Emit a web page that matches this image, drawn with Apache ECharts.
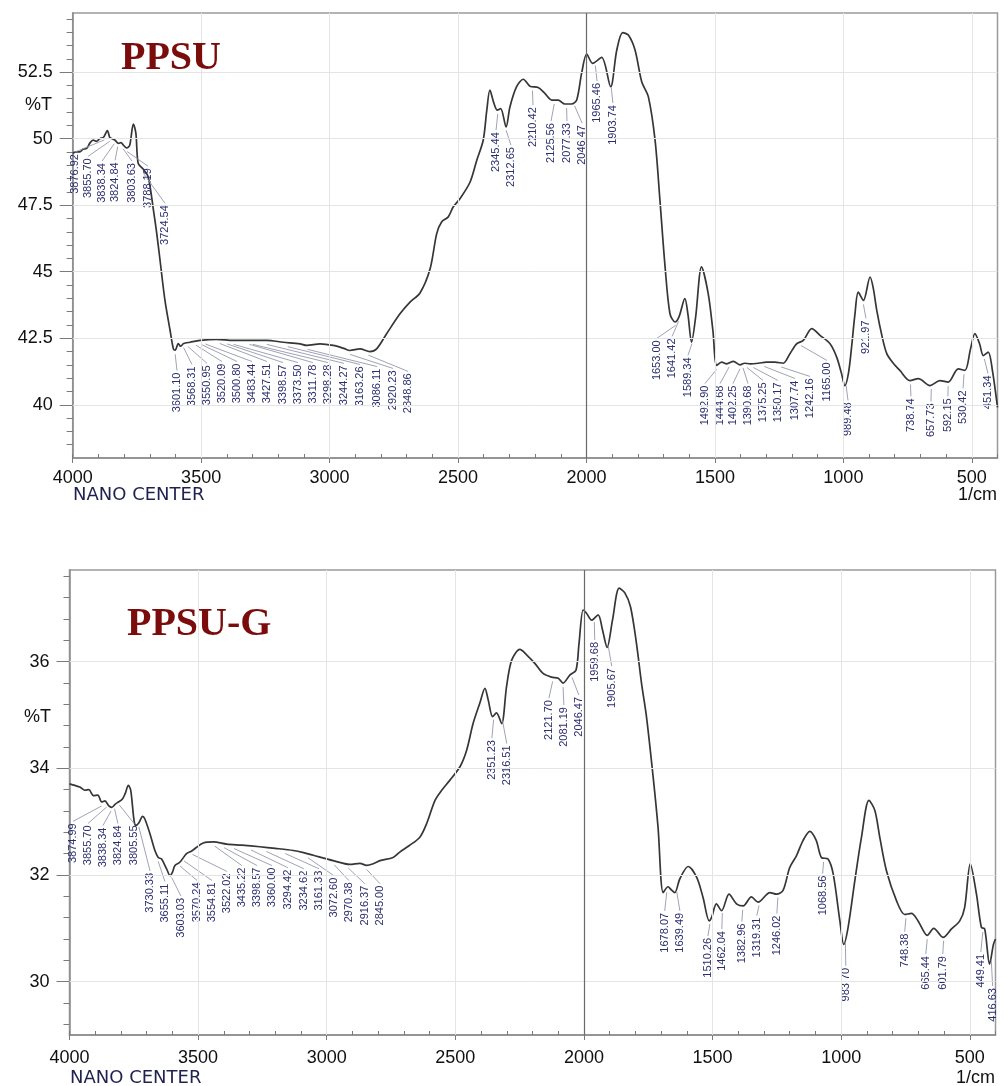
<!DOCTYPE html>
<html>
<head>
<meta charset="utf-8">
<script src="https://cdn.jsdelivr.net/npm/echarts@6/dist/echarts.min.js"></script>
<style>
  html, body { margin: 0; background: #fff; }
  #chart { width: 1008px; height: 1086px; }
</style>
</head>
<body>
<div id="chart"></div>
<script>
// PPSU spectrum (wavenumber, %T)
const ppsuWn = [4000, 3985, 3972, 3960, 3946, 3932, 3920, 3908, 3894, 3880, 3865, 3856, 3848, 3835, 3822, 3812, 3803, 3790, 3778, 3764,
  3754, 3745, 3725, 3706, 3684, 3673, 3660, 3641, 3621, 3608, 3601, 3589, 3580, 3568, 3543, 3504, 3439, 3375, 3300, 3245,
  3180, 3115, 3089, 3037, 2986, 2945, 2921, 2882, 2843, 2817, 2778, 2726, 2687, 2648, 2609, 2583, 2564, 2538, 2519, 2492,
  2453, 2427, 2402, 2388, 2376, 2360, 2347, 2334, 2313, 2298, 2272, 2246, 2220, 2188, 2162, 2135, 2110, 2084, 2058, 2038,
  2019, 1999, 1976, 1941, 1906, 1882, 1859, 1837, 1811, 1785, 1759, 1733, 1714, 1694, 1675, 1655, 1640, 1617, 1605, 1591,
  1575, 1552, 1526, 1508, 1493, 1474, 1454, 1428, 1402, 1385, 1363, 1331, 1300, 1266, 1234, 1208, 1182, 1156, 1123, 1091,
  1052, 1026, 1008, 994, 980, 968, 955, 942, 922, 896, 884, 870, 850, 831, 805, 780, 741, 708, 663, 624,
  592, 553, 527, 505, 488, 470, 455, 436, 420, 400];
const ppsuT = [49.45, 49.5, 49.5, 49.6, 49.63, 49.85, 49.94, 49.9, 50.0, 50.05, 50.3, 50.05, 50.0, 49.94, 49.82, 49.85, 49.76, 49.65, 49.75, 50.55,
  50.2, 49.07, 48.85, 48.56, 47.2, 46.45, 45.43, 43.93, 42.8, 42.1, 42.05, 42.3, 42.2, 42.3, 42.35, 42.42, 42.46, 42.42, 42.42, 42.42,
  42.35, 42.29, 42.23, 42.29, 42.23, 42.12, 42.04, 42.1, 42.0, 42.1, 42.67, 43.42, 43.86, 44.2, 45.1, 46.43, 46.87, 47.06, 47.43, 47.75,
  48.37, 49.19, 49.94, 51.07, 51.82, 51.32, 51.07, 51.13, 50.44, 51.19, 51.95, 52.23, 51.97, 51.92, 51.7, 51.45, 51.45, 51.3, 51.3, 51.45,
  52.45, 53.18, 52.83, 53.05, 51.95, 53.33, 53.98, 53.89, 53.33, 52.14, 51.57, 49.94, 47.68, 45.18, 43.42, 43.11, 43.3, 43.99, 43.4, 42.35,
  43.3, 45.18, 44.17, 42.8, 41.48, 41.6, 41.54, 41.63, 41.5, 41.56, 41.54, 41.56, 41.6, 41.6, 41.56, 41.92, 42.29, 42.42, 42.86, 42.61,
  42.29, 41.79, 41.2, 40.72, 41.2, 42.17, 43.4, 44.23, 43.92, 44.8, 44.4, 43.55, 42.6, 41.92, 41.55, 41.29, 40.91, 40.98, 40.72, 40.91,
  40.85, 41.35, 41.29, 42.1, 42.67, 42.3, 41.85, 41.98, 41.3, 39.9];

// PPSU-G spectrum (wavenumber, %T)
const ppsugWn = [4000, 3979, 3960, 3940, 3925, 3907, 3890, 3875, 3862, 3848, 3836, 3822, 3810, 3795, 3784, 3771, 3762, 3749, 3742, 3730,
  3716, 3707, 3687, 3668, 3655, 3642, 3622, 3609, 3600, 3590, 3571, 3545, 3525, 3506, 3480, 3440, 3389, 3330, 3260, 3200,
  3130, 3090, 3052, 2975, 2910, 2871, 2845, 2815, 2793, 2742, 2716, 2680, 2638, 2612, 2579, 2553, 2521, 2482, 2456, 2431,
  2405, 2385, 2372, 2355, 2340, 2320, 2301, 2281, 2249, 2223, 2191, 2159, 2126, 2100, 2081, 2055, 2031, 2019, 2003, 1990,
  1970, 1945, 1928, 1910, 1889, 1863, 1841, 1819, 1796, 1776, 1757, 1731, 1712, 1692, 1673, 1660, 1647, 1627, 1595, 1562,
  1537, 1513, 1504, 1485, 1465, 1436, 1407, 1381, 1349, 1323, 1277, 1251, 1226, 1200, 1174, 1148, 1122, 1097, 1077, 1051,
  1031, 1005, 990, 973, 947, 921, 892, 869, 850, 824, 785, 753, 727, 701, 665, 640, 604, 571, 539, 520,
  498, 474, 455, 442, 423, 408, 400];
const ppsugT = [33.71, 33.68, 33.65, 33.59, 33.6, 33.49, 33.5, 33.37, 33.39, 33.3, 33.27, 33.33, 33.37, 33.42, 33.52, 33.68, 33.59, 33.02, 32.93, 32.98,
  33.1, 33.05, 32.77, 32.46, 32.33, 32.3, 32.11, 31.99, 32.05, 32.18, 32.24, 32.4, 32.45, 32.52, 32.6, 32.62, 32.58, 32.56, 32.53, 32.5,
  32.46, 32.42, 32.37, 32.27, 32.2, 32.22, 32.18, 32.22, 32.27, 32.33, 32.43, 32.55, 32.71, 32.96, 33.4, 33.59, 33.78, 34.03, 34.34, 34.84,
  35.22, 35.5, 35.28, 34.97, 35.04, 34.84, 35.53, 36.03, 36.23, 36.13, 35.97, 35.78, 35.71, 35.69, 35.6, 35.75, 35.84, 36.35, 36.97, 36.91,
  36.78, 36.88, 36.6, 36.27, 36.78, 37.38, 37.29, 37.03, 36.35, 35.59, 34.97, 33.84, 32.9, 31.67, 31.78, 31.72, 31.67, 31.93, 32.16, 31.96,
  31.58, 31.14, 31.2, 31.46, 31.33, 31.64, 31.46, 31.42, 31.59, 31.49, 31.67, 31.64, 31.71, 32.14, 32.36, 32.65, 32.82, 32.65, 32.33, 32.3,
  32.02, 31.14, 30.7, 31.02, 31.89, 32.71, 33.4, 33.21, 32.71, 32.08, 31.52, 31.26, 31.28, 31.14, 30.87, 31.0, 30.83, 30.99, 31.14, 31.39,
  32.21, 31.64, 31.02, 30.99, 30.33, 30.7, 30.8];

// peak labels: peak wavenumber, where its tag sits (wavenumber) and the %T at the tag's top
const ppsuPeaks = [3876.92, 3855.70, 3838.34, 3824.84, 3803.63, 3788.19, 3724.54,
  3601.10, 3568.31, 3550.95, 3520.09, 3500.80, 3483.44, 3427.51, 3398.57, 3373.50, 3311.78, 3298.28, 3244.27, 3163.26, 3086.11, 2920.23, 2848.86,
  2345.44, 2312.65, 2210.42, 2125.56, 2077.33, 2046.47, 1965.46, 1903.74,
  1653.00, 1641.42, 1589.34, 1492.90, 1444.68, 1402.25, 1390.68, 1375.25, 1350.17, 1307.74, 1242.16, 1165.00,
  989.48, 921.97, 738.74, 657.73, 592.15, 530.42, 451.34];
const ppsuTagWn = [3991, 3940, 3886, 3835, 3769, 3707, 3641,
  3594, 3536, 3477, 3419, 3360, 3302, 3244, 3181, 3123, 3065, 3006, 2944, 2882, 2815, 2753, 2695,
  2352, 2294, 2208, 2138, 2076, 2017, 1959, 1897,
  1726, 1667, 1605, 1539, 1480, 1430, 1371, 1313, 1255, 1188, 1130, 1064,
  982, 912, 737, 659, 593, 534, 437];
const ppsuTagT = [49.42, 49.26, 49.08, 49.11, 49.08, 48.89, 47.5,
  41.21, 41.44, 41.48, 41.55, 41.55, 41.55, 41.55, 41.51, 41.51, 41.51, 41.51, 41.48, 41.44, 41.36, 41.29, 41.18,
  50.24, 49.68, 51.18, 50.58, 50.58, 50.51, 52.09, 51.26,
  42.42, 42.49, 41.78, 40.72, 40.72, 40.72, 40.72, 40.84, 40.84, 40.91, 40.99, 41.59,
  40.09, 43.17, 40.24, 40.05, 40.24, 40.54, 41.1];

const ppsugPeaks = [3874.99, 3855.70, 3838.34, 3824.84, 3805.55, 3730.33, 3655.11, 3603.03, 3570.24, 3554.81, 3522.02,
  3435.22, 3398.57, 3360.00, 3294.42, 3234.62, 3161.33, 3072.60, 2970.38, 2916.37, 2845.00,
  2351.23, 2316.51, 2121.70, 2081.19, 2046.47, 1959.68, 1905.67,
  1678.07, 1639.49, 1510.26, 1462.04, 1382.96, 1319.31, 1246.02, 1068.56, 983.70, 748.38, 665.44, 601.79, 449.41, 416.63];
const ppsugTagWn = [3986, 3928, 3870, 3812, 3749, 3687, 3629, 3567, 3504, 3446, 3388,
  3330, 3271, 3213, 3151, 3089, 3030, 2972, 2914, 2852, 2793,
  2358, 2300, 2136, 2078, 2020, 1958, 1892,
  1686, 1627, 1518, 1464, 1386, 1328, 1250, 1072, 982, 753, 671, 605, 457, 411];
const ppsugTagT = [32.97, 32.93, 32.89, 32.93, 32.93, 32.04, 31.84, 31.57, 31.86, 31.86, 32.03,
  32.14, 32.14, 32.14, 32.1, 32.08, 32.08, 31.95, 31.86, 31.8, 31.8,
  34.53, 34.43, 35.28, 35.15, 35.34, 36.37, 35.88,
  31.29, 31.29, 30.82, 30.95, 31.09, 31.2, 31.24, 31.99, 30.26, 30.9, 30.48, 30.48, 30.52, 29.88];

// axes
const xLabels = [4000, 3500, 3000, 2500, 2000, 1500, 1000, 500];
const xGridAt = [3500, 3000, 2500, 1500, 1000, 500];
const ppsuYLabels = [40, 42.5, 45, 47.5, 50, 52.5];
const ppsugYLabels = [30, 32, 34, 36];

function steps(from, to, step) {
  const out = [];
  for (let v = from; v <= to + 1e-9; v += step) out.push(Math.round(v * 100) / 100);
  return out;
}
const xMinor = steps(400, 4000, 100);
const ppsuYMinor = steps(38.5, 54.5, 0.5);
const ppsugYMinor = steps(29.2, 37.6, 0.4);

function curveAt(wn, ws, ts) {
  for (let i = 0; i < ws.length - 1; i++) {
    if (wn <= ws[i] && wn >= ws[i + 1]) {
      const f = (ws[i] - wn) / (ws[i] - ws[i + 1]);
      return ts[i] + f * (ts[i + 1] - ts[i]);
    }
  }
  return ts[ts.length - 1];
}

const tickColor = '#7a7a7a';
const labelFont = '"Liberation Sans", Arial, sans-serif';

function mainX(g) {
  return {
    type: 'value', gridIndex: g, inverse: true, min: 400, max: 4000,
    axisLine: { show: true, lineStyle: { color: '#8c8c8c', width: 1.5 } },
    axisTick: { show: true, inside: true, length: 4, customValues: xMinor, lineStyle: { color: tickColor } },
    axisLabel: { customValues: xLabels, margin: g ? 14 : 11, fontSize: 18, color: '#111', fontFamily: labelFont,
                 formatter: v => String(v) },
    splitLine: { show: false }
  };
}
function majorX(g) {
  return {
    type: 'value', gridIndex: g, inverse: true, min: 400, max: 4000, position: 'bottom',
    axisLine: { show: false }, axisLabel: { show: false }, splitLine: { show: false },
    axisTick: { show: true, length: 5, customValues: xLabels, lineStyle: { color: tickColor } }
  };
}
function mainY(g, min, max, labels, minor) {
  return {
    type: 'value', gridIndex: g, min: min, max: max, position: 'left',
    axisLine: { show: true, lineStyle: { color: '#8c8c8c', width: 1.5 } },
    axisTick: { show: true, length: 6, customValues: minor, lineStyle: { color: tickColor } },
    axisLabel: { customValues: labels, margin: 20, fontSize: 18, color: '#111', fontFamily: labelFont,
                 formatter: v => String(v) },
    splitLine: { show: false }
  };
}
function majorY(g, min, max, labels) {
  return {
    type: 'value', gridIndex: g, min: min, max: max, position: 'left',
    axisLine: { show: false }, axisLabel: { show: false }, splitLine: { show: false },
    axisTick: { show: true, length: 13, customValues: labels, lineStyle: { color: tickColor } }
  };
}

function gridLines(g, yVals) {
  return {
    type: 'line', xAxisIndex: g, yAxisIndex: g, data: [], z: 1, silent: true,
    markLine: {
      silent: true, symbol: 'none', animation: false, label: { show: false },
      lineStyle: { color: '#e4e4e4', width: 1, type: 'solid' },
      data: xGridAt.map(v => ({ xAxis: v }))
        .concat(yVals.map(v => ({ yAxis: v })))
        .concat([{ xAxis: 2000, lineStyle: { color: '#6a6a6a', width: 1.2, type: 'solid' } }])
    }
  };
}

function spectrum(g, ws, ts) {
  return {
    type: 'line', xAxisIndex: g, yAxisIndex: g, z: 3, silent: true,
    data: ws.map((w, i) => [w, ts[i]]),
    showSymbol: false, smooth: 0.3,
    lineStyle: { color: '#363636', width: 1.7 }
  };
}

function peakTags(g, peaks, tagWn, tagT, ws, ts) {
  return {
    type: 'custom', xAxisIndex: g, yAxisIndex: g, z: 4, silent: true,
    encode: { x: 1, y: 2 },
    data: peaks.map((p, i) => [p, tagWn[i], tagT[i]]),
    renderItem: function (params, api) {
      const p = api.value(0);
      const a = api.coord([p, curveAt(p, ws, ts)]);
      const b = api.coord([api.value(1), api.value(2)]);
      return {
        type: 'group',
        children: [
          { type: 'line', shape: { x1: a[0], y1: a[1] + 4, x2: b[0], y2: b[1] - 2 },
            style: { stroke: '#9597ab', lineWidth: 0.9 } },
          { type: 'text', x: b[0], y: b[1], rotation: Math.PI / 2,
            style: { text: p.toFixed(2), align: 'right', verticalAlign: 'middle',
                     font: '11px ' + labelFont, fill: '#2b2e6e' } }
        ]
      };
    }
  };
}

const chart = echarts.init(document.getElementById('chart'), null, { renderer: 'canvas' });

const textStyle = { font: '18px ' + labelFont, fill: '#111' };
const navyStyle = { font: '18px "DejaVu Sans", sans-serif', fill: '#1f2150' };

chart.setOption({
  animation: false,
  backgroundColor: '#fff',
  title: [
    { text: 'PPSU', left: 121, top: 39, padding: 0,
      textStyle: { fontFamily: '"Liberation Serif", "Times New Roman", serif', fontWeight: 'bold', fontSize: 40, color: '#7b0c0c' } },
    { text: 'PPSU-G', left: 127, top: 605, padding: 0,
      textStyle: { fontFamily: '"Liberation Serif", "Times New Roman", serif', fontWeight: 'bold', fontSize: 40, color: '#7b0c0c' } }
  ],
  grid: [
    { left: 72.7, top: 13, width: 924.8, height: 445, show: true, borderColor: '#9a9a9a', borderWidth: 1.5 },
    { left: 69.5, top: 570, width: 926, height: 465, show: true, borderColor: '#9a9a9a', borderWidth: 1.5 }
  ],
  xAxis: [mainX(0), mainX(1), majorX(0), majorX(1)],
  yAxis: [
    mainY(0, 38, 54.72, ppsuYLabels, ppsuYMinor),
    mainY(1, 29, 37.72, ppsugYLabels, ppsugYMinor),
    majorY(0, 38, 54.72, ppsuYLabels),
    majorY(1, 29, 37.72, ppsugYLabels)
  ],
  graphic: [
    { type: 'text', x: 52, y: 105, style: Object.assign({ text: '%T', align: 'right', verticalAlign: 'middle' }, textStyle) },
    { type: 'text', x: 51, y: 717, style: Object.assign({ text: '%T', align: 'right', verticalAlign: 'middle' }, textStyle) },
    { type: 'text', x: 73, y: 495, style: Object.assign({ text: 'NANO CENTER', align: 'left', verticalAlign: 'middle' }, navyStyle) },
    { type: 'text', x: 70, y: 1078, style: Object.assign({ text: 'NANO CENTER', align: 'left', verticalAlign: 'middle' }, navyStyle) },
    { type: 'text', x: 997, y: 495, style: Object.assign({ text: '1/cm', align: 'right', verticalAlign: 'middle' }, textStyle) },
    { type: 'text', x: 995, y: 1078, style: Object.assign({ text: '1/cm', align: 'right', verticalAlign: 'middle' }, textStyle) }
  ],
  series: [
    gridLines(0, ppsuYLabels),
    gridLines(1, ppsugYLabels),
    spectrum(0, ppsuWn, ppsuT),
    spectrum(1, ppsugWn, ppsugT),
    peakTags(0, ppsuPeaks, ppsuTagWn, ppsuTagT, ppsuWn, ppsuT),
    peakTags(1, ppsugPeaks, ppsugTagWn, ppsugTagT, ppsugWn, ppsugT)
  ]
});
</script>
</body>
</html>
